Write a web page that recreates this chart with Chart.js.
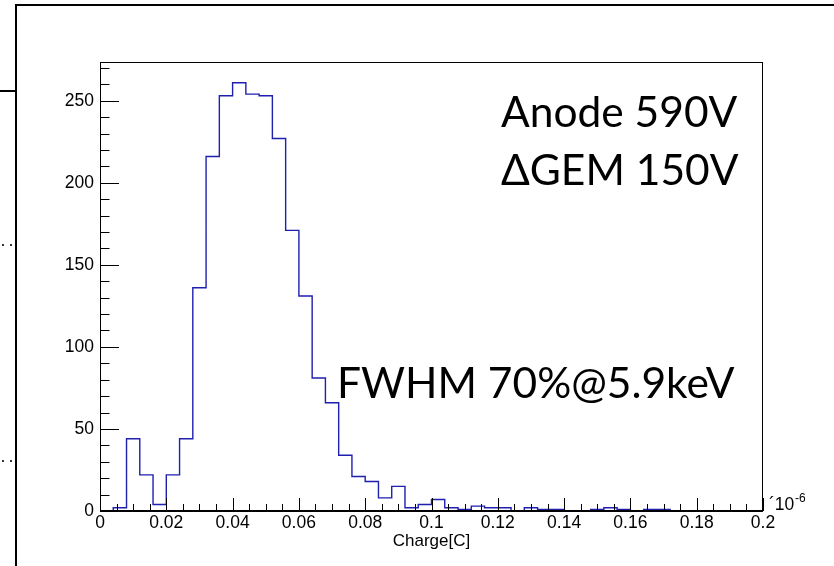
<!DOCTYPE html>
<html>
<head>
<meta charset="utf-8">
<title>Charge spectrum</title>
<script src="https://cdn.jsdelivr.net/npm/chart.js@4.4.0/dist/chart.umd.min.js"></script>
<style>
  * { box-sizing: border-box; }
  html, body { margin: 0; padding: 0; background: #fff; }
  #wrap { position: relative; width: 834px; height: 566px; overflow: hidden; }
  #wrap canvas { position: absolute; left: 0; top: 0; }
  .deco { position: absolute; background: #000; }
  .dot { position: absolute; width: 2px; height: 2px; background: #333; }
</style>
</head>
<body>
<div id="wrap">
  <canvas id="chart" width="834" height="566"></canvas>
  <!-- slide frame behind the plot -->
  <div class="deco" style="left:15px;top:4px;width:2px;height:562px"></div>
  <div class="deco" style="left:15px;top:4px;width:819px;height:2px"></div>
  <div class="deco" style="left:0;top:90px;width:16px;height:2px"></div>
  <div class="dot" style="left:2px;top:244px"></div>
  <div class="dot" style="left:10px;top:244px"></div>
  <div class="dot" style="left:2px;top:460px"></div>
  <div class="dot" style="left:10px;top:460px"></div>
</div>
<script>
// histogramme : 50 bins de 0.004 (x 1e-6 C)
const binWidth = 0.004;
const counts = [
  0, 2, 44, 22, 4, 22, 44, 136, 216, 253,
  261, 254, 253, 227, 171, 131, 81, 66, 34, 21,
  18, 8, 15, 2, 4, 7, 2, 1, 3, 2,
  2, 0, 2, 1, 1, 0, 0, 1, 2, 1,
  0, 1, 1, 0, 0, 0, 0, 0, 0, 0
];
const binLow = counts.map((_, i) => +(i * binWidth).toFixed(3));

const xMin = 0, xMax = 0.2, xStep = 0.02, xMinorStep = 0.005;
const yMin = 0, yMax = 273.6, yStep = 50, yMinorStep = 10;

const notes = [
  { text: 'Anode 590V', x: 501, y: 127 },
  { text: '\u0394GEM 150V', x: 501, y: 185 },
  { text: 'FWHM 70%@5.9keV', x: 337, y: 398 }
];

const axisFont = { family: "'Liberation Sans', Arial, sans-serif", size: 17.5 };

// contour de step comme ROOT : bords gauches + fermeture a droite
const histPoints = binLow.map((x, i) => ({ x, y: counts[i] }));
histPoints.push({ x: +(binLow[binLow.length - 1] + binWidth).toFixed(3), y: counts[counts.length - 1] });

// ticks vers l'interieur + cadre
const rootFrame = {
  id: 'rootFrame',
  afterDatasetsDraw(chart) {
    const { ctx, chartArea: a, scales: { x, y } } = chart;
    ctx.save();
    ctx.strokeStyle = '#000';
    ctx.lineWidth = 1;
    ctx.beginPath();
    const nx = Math.round((xMax - xMin) / xMinorStep);
    for (let i = 0; i <= nx; i++) {
      const px = Math.round(x.getPixelForValue(xMin + i * xMinorStep)) + 0.5;
      const len = i % Math.round(xStep / xMinorStep) === 0 ? 13 : 7;
      ctx.moveTo(px, a.bottom);
      ctx.lineTo(px, a.bottom - len);
    }
    const ny = Math.floor((yMax - yMin) / yMinorStep);
    for (let i = 0; i <= ny; i++) {
      const v = yMin + i * yMinorStep;
      const py = Math.round(y.getPixelForValue(v)) + 0.5;
      const len = v % yStep === 0 ? 19 : 9.5;
      ctx.moveTo(a.left, py);
      ctx.lineTo(a.left + len, py);
    }
    ctx.stroke();
    ctx.strokeRect(a.left + 0.5, a.top + 0.5, a.right - a.left - 1, a.bottom - a.top);
    ctx.lineWidth = 2;
    ctx.beginPath();
    ctx.moveTo(a.left, a.bottom);
    ctx.lineTo(a.right, a.bottom);
    ctx.stroke();
    ctx.restore();
  },
  afterDraw(chart) {
    const { ctx, chartArea: a } = chart;
    ctx.save();
    ctx.fillStyle = '#000';
    ctx.textBaseline = 'alphabetic';
    ctx.font = "42.5px Lato, 'Open Sans', sans-serif";
    notes.forEach(n => ctx.fillText(n.text, n.x, n.y));
    // facteur d'echelle de l'axe x
    ctx.font = "17.5px 'Liberation Sans', Arial, sans-serif";
    ctx.fillText('\u00b410', a.right + 6, a.bottom - 1);
    ctx.font = "12px 'Liberation Sans', Arial, sans-serif";
    ctx.fillText('-6', a.right + 32, a.bottom - 9);
    ctx.restore();
  }
};

new Chart(document.getElementById('chart'), {
  type: 'line',
  data: {
    datasets: [{
      data: histPoints,
      stepped: 'before',
      borderColor: '#1f1fb0',
      borderWidth: 1.4,
      pointRadius: 0,
      fill: false
    }]
  },
  options: {
    responsive: false,
    animation: false,
    layout: { padding: { left: 0, top: 62, right: 71, bottom: 0 } },
    plugins: { legend: { display: false }, tooltip: { enabled: false } },
    scales: {
      x: {
        type: 'linear',
        min: xMin,
        max: xMax,
        grid: { display: false, drawTicks: false },
        border: { display: false },
        ticks: {
          stepSize: xStep,
          includeBounds: false,
          autoSkip: false,
          maxRotation: 0,
          padding: 2,
          color: '#000',
          font: axisFont,
          callback: v => String(+v.toFixed(2))
        },
        title: {
          display: true,
          text: 'Charge[C]',
          color: '#000',
          font: { family: axisFont.family, size: 17 },
          padding: { top: 0, bottom: 14 }
        },
        afterFit: s => { s.height = 55; }
      },
      y: {
        min: yMin,
        max: yMax,
        grid: { display: false, drawTicks: false },
        border: { display: false },
        ticks: {
          stepSize: yStep,
          includeBounds: false,
          padding: 6,
          color: '#000',
          font: axisFont
        },
        afterFit: s => { s.width = 100; }
      }
    }
  },
  plugins: [rootFrame]
});
</script>
</body>
</html>
